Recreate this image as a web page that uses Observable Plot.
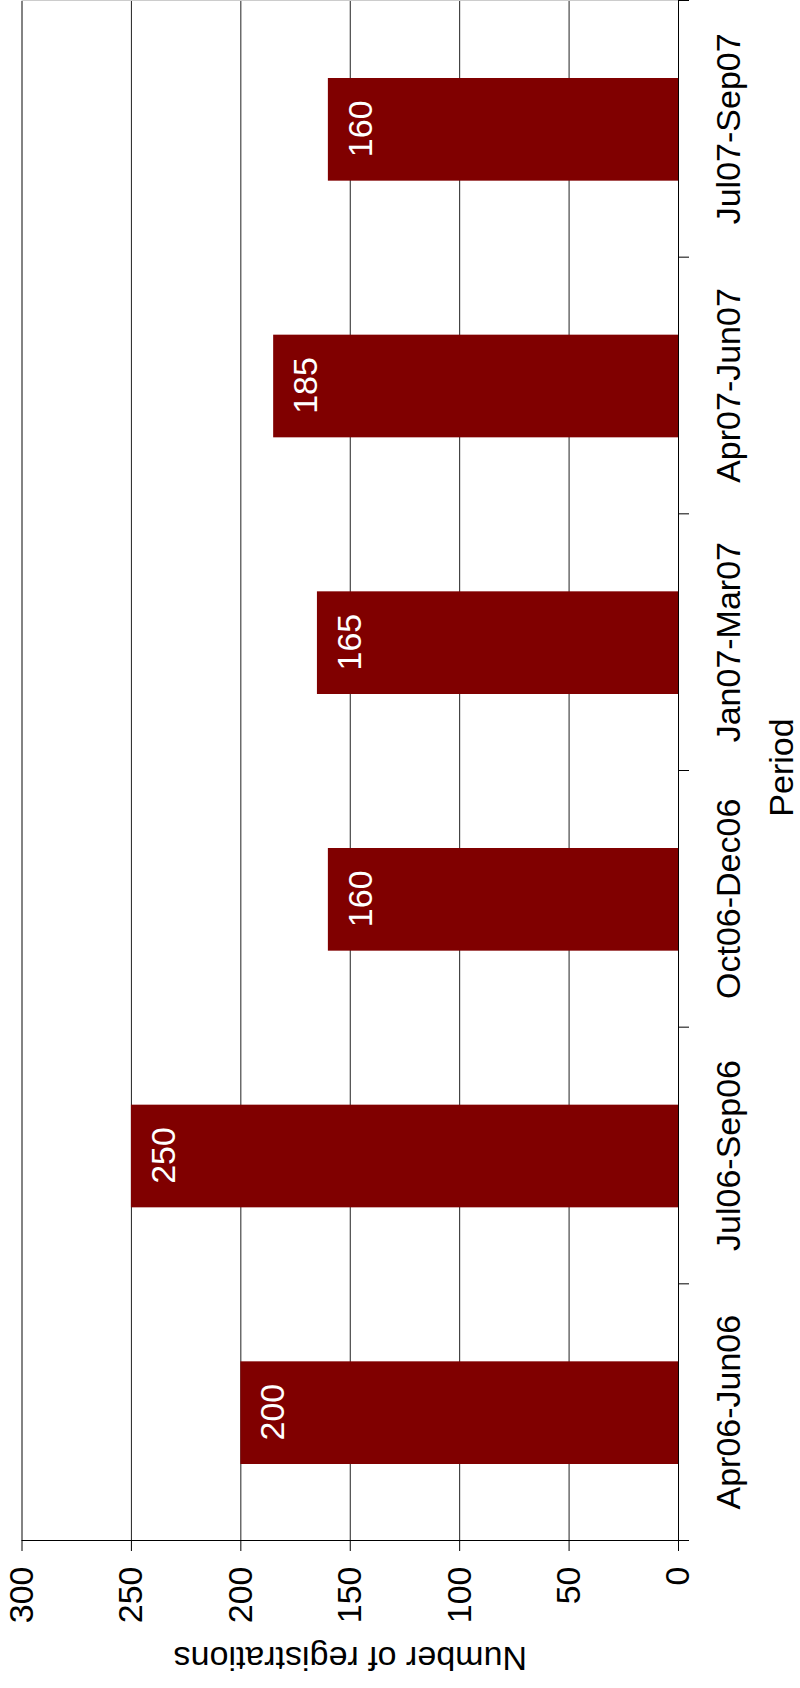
<!DOCTYPE html>
<html>
<head>
<meta charset="utf-8">
<script src="https://cdn.jsdelivr.net/npm/d3@7"></script>
<script src="https://cdn.jsdelivr.net/npm/@observablehq/plot@0.6"></script>
<style>
html, body { margin: 0; padding: 0; background: #fff; overflow: hidden; width: 800px; height: 1688px; }
#chart { position: absolute; left: 0; top: 0; width: 1688px; height: 800px; transform-origin: 0 0; transform: translate(0, 1688px) rotate(-90deg); }
</style>
</head>
<body>
<div id="chart"></div>
<script>
const categories = ["Apr06-Jun06", "Jul06-Sep06", "Oct06-Dec06", "Jan07-Mar07", "Apr07-Jun07", "Jul07-Sep07"];
const registrations = [200, 250, 160, 165, 185, 160];
const valueTicks = [0, 50, 100, 150, 200, 250, 300];
const xTitle = "Period";
const yTitle = "Number of registrations";

const data = categories.map((c, i) => ({i, period: c, value: registrations[i]}));
const boundaries = d3.range(categories.length + 1);
const centers = categories.map((c, i) => i + 0.5);
const font = "'Liberation Sans', Arial, Helvetica, sans-serif";

const chart = Plot.plot({
  width: 1688,
  height: 800,
  marginTop: 21.5,
  marginBottom: 122,
  marginLeft: 147,
  marginRight: 1,
  style: {fontFamily: font, fontSize: "34px", background: "#fff", color: "#000"},
  x: {domain: [0, categories.length]},
  y: {domain: [0, 300]},
  marks: [
    Plot.frame({stroke: "#cccccc"}),
    Plot.gridY(valueTicks.filter(v => v > 0), {stroke: "#222", strokeOpacity: 1, strokeWidth: 1}),
    Plot.rectY(data, {x1: d => d.i + 0.3, x2: d => d.i + 0.7, y: "value", fill: "#800000"}),
    Plot.text(data, {x: d => d.i + 0.5, y: "value", text: d => String(d.value), fill: "#fff", lineAnchor: "top", dy: 19.5, fontSize: 34}),
    Plot.ruleY([0], {stroke: "#000"}),
    Plot.ruleX([0], {stroke: "#000"}),
    Plot.axisY(valueTicks, {tickSize: 10, tickPadding: 16, fontSize: 34, label: null, stroke: "#000", fill: "#000"}),
    Plot.axisX(boundaries, {tickSize: 11, fill: "none", label: null, stroke: "#000"}),
    Plot.axisX(centers, {tickSize: 0, tickPadding: 37, fontSize: 34, label: null, fill: "#000", tickFormat: d => categories[Math.floor(d)]}),
    Plot.text([xTitle], {text: d => d, frameAnchor: "bottom", lineAnchor: "bottom", textAnchor: "middle", dx: 3, dy: 114.5, fontSize: 34, fill: "#000"}),
    Plot.text([yTitle], {text: d => d, frameAnchor: "left", rotate: -90, lineAnchor: "bottom", textAnchor: "middle", dx: -106, fontSize: 34, fill: "#000"})
  ]
});
document.getElementById("chart").appendChild(chart);
</script>
</body>
</html>
